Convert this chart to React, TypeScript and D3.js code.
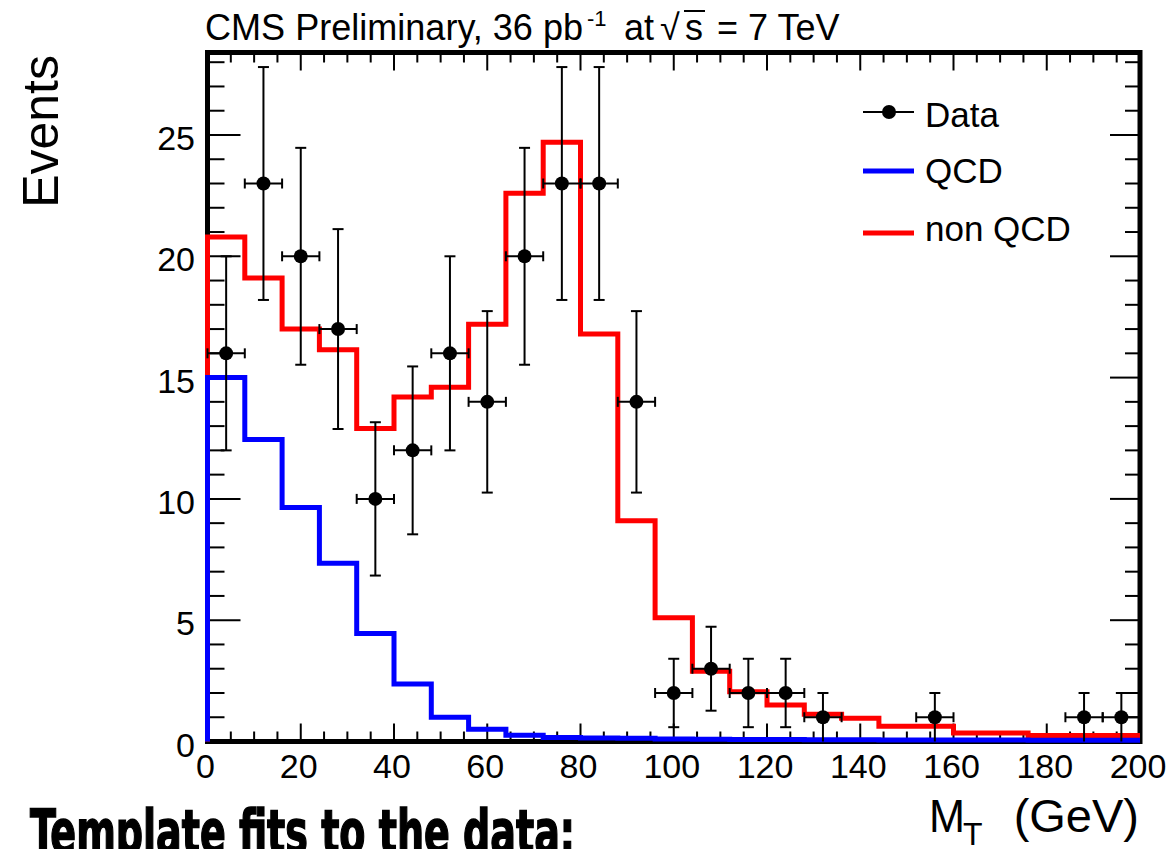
import React from 'react';
import * as d3 from 'd3';

// ---- Data ----
const binEdges = [0, 8, 16, 24, 32, 40, 48, 56, 64, 72, 80, 88, 96, 104, 112, 120, 128, 136, 144, 152, 160, 168, 176, 184, 192, 200];
const dataCounts = [16, 23, 20, 17, 10, 12, 16, 14, 20, 23, 23, 14, 2, 3, 2, 2, 1, 0, 0, 1, 0, 0, 0, 1, 1];
const dataErrors = [4.0, 4.8, 4.47, 4.12, 3.16, 3.46, 4.0, 3.74, 4.47, 4.8, 4.8, 3.74, 1.41, 1.73, 1.41, 1.41, 1.0, 0, 0, 1.0, 0, 0, 0, 1.0, 1.0];
const qcdTemplate = [15.0, 12.45, 9.65, 7.35, 4.45, 2.37, 1.0, 0.5, 0.26, 0.17, 0.14, 0.13, 0.1, 0.09, 0.08, 0.08, 0.07, 0.07, 0.06, 0.06, 0.06, 0.06, 0.05, 0.05, 0.05];
const nonQcdTemplate = [20.8, 19.1, 17.0, 16.15, 12.9, 14.2, 14.6, 17.2, 22.6, 24.7, 16.8, 9.1, 5.1, 2.9, 2.05, 1.5, 1.12, 0.96, 0.63, 0.63, 0.35, 0.35, 0.25, 0.25, 0.25];
const xTickValues = [0, 20, 40, 60, 80, 100, 120, 140, 160, 180, 200];
const yTickValues = [0, 5, 10, 15, 20, 25];
const legendLabels = ['Data', 'QCD', 'non QCD'];
const legendColors = ['#000000', '#0000ff', '#ff0000'];

const W = 1169;
const H = 849;
const FONT = "'Liberation Sans', Arial, Helvetica, sans-serif";

export default function App() {
  const X0 = 207.5, X1 = 1140, Y0 = 741.5, YT = 52.5;
  const x = d3.scaleLinear().domain([0, 200]).range([X0, X1]);
  const y = d3.scaleLinear().domain([0, 28.4]).range([Y0, YT]);

  const stepPath = (vals: number[]) => {
    const pts: [number, number][] = [[binEdges[0], 0]];
    vals.forEach((v, i) => {
      pts.push([binEdges[i], v]);
      pts.push([binEdges[i + 1], v]);
    });
    return d3.line<[number, number]>().x(d => x(d[0])).y(d => y(d[1]))(pts) || '';
  };

  const yMinor = d3.range(0, 29, 1).filter(v => v % 5 !== 0);
  const xMinor = d3.range(0, 201, 5).filter(v => v % 20 !== 0);

  const points = dataCounts
    .map((c, i) => ({ c, e: dataErrors[i], lo: binEdges[i], hi: binEdges[i + 1], mid: (binEdges[i] + binEdges[i + 1]) / 2 }))
    .filter(p => p.c > 0);

  const legendRows = [
    { line: 112, base: 127 },
    { line: 171, base: 183 },
    { line: 233, base: 241 },
  ];

  return (
    <svg width={W} height={H} style={{ position: 'absolute', left: 0, top: 0, background: '#fff' }}>
      <rect x={0} y={0} width={W} height={H} fill="#fff" />

      {/* ticks */}
      <g stroke="#000" strokeWidth={2}>
        {yTickValues.map(v => (
          <g key={'ym' + v}>
            <line x1={X0} x2={X0 + 33} y1={y(v)} y2={y(v)} />
            <line x1={X1} x2={X1 - 30} y1={y(v)} y2={y(v)} />
          </g>
        ))}
        {yMinor.map(v => (
          <g key={'yn' + v}>
            <line x1={X0} x2={X0 + 17} y1={y(v)} y2={y(v)} />
            <line x1={X1} x2={X1 - 15} y1={y(v)} y2={y(v)} />
          </g>
        ))}
        {xTickValues.map(v => (
          <g key={'xm' + v}>
            <line x1={x(v)} x2={x(v)} y1={Y0} y2={Y0 - 18} />
            <line x1={x(v)} x2={x(v)} y1={YT} y2={YT + 18} />
          </g>
        ))}
        {xMinor.map(v => (
          <g key={'xn' + v}>
            <line x1={x(v)} x2={x(v)} y1={Y0} y2={Y0 - 10} />
            <line x1={x(v)} x2={x(v)} y1={YT} y2={YT + 10} />
          </g>
        ))}
      </g>

      {/* frame */}
      <rect x={X0} y={YT} width={X1 - X0} height={Y0 - YT} fill="none" stroke="#000" strokeWidth={5} />

      {/* templates */}
      <path d={stepPath(nonQcdTemplate)} fill="none" stroke="#ff0000" strokeWidth={5} strokeLinejoin="miter" />
      <path d={stepPath(qcdTemplate)} fill="none" stroke="#0000ff" strokeWidth={5} strokeLinejoin="miter" />

      {/* data */}
      <g stroke="#000" strokeWidth={2} fill="#000">
        {points.map((p, i) => {
          const cx = x(p.mid), cy = y(p.c);
          const yTop = y(p.c + p.e), yBot = y(Math.max(0, p.c - p.e));
          return (
            <g key={'d' + i}>
              <line x1={cx} x2={cx} y1={yTop} y2={yBot} />
              <line x1={cx - 5.5} x2={cx + 5.5} y1={yTop} y2={yTop} />
              {p.c - p.e > 0.01 && <line x1={cx - 5.5} x2={cx + 5.5} y1={yBot} y2={yBot} />}
              <line x1={x(p.lo)} x2={x(p.hi)} y1={cy} y2={cy} />
              <line x1={x(p.lo)} x2={x(p.lo)} y1={cy - 5} y2={cy + 5} />
              <line x1={x(p.hi)} x2={x(p.hi)} y1={cy - 5} y2={cy + 5} />
              <circle cx={cx} cy={cy} r={7} stroke="none" />
            </g>
          );
        })}
      </g>

      {/* tick labels */}
      <g fontFamily={FONT} fontSize={34} fill="#000">
        {yTickValues.map(v => (
          <text key={'yl' + v} x={195} y={y(v) + 15} textAnchor="end">{v}</text>
        ))}
        {xTickValues.map(v => (
          <text key={'xl' + v} x={x(v) - 2} y={778} textAnchor="middle">{v}</text>
        ))}
      </g>

      {/* axis titles */}
      <text transform="translate(58,55) rotate(-90)" textAnchor="end" fontFamily={FONT} fontSize={50} fill="#000">Events</text>
      <g fontFamily={FONT} fill="#000">
        <text x={929} y={832} fontSize={47} textLength={36} lengthAdjust="spacingAndGlyphs">M</text>
        <text x={963} y={845} fontSize={32}>T</text>
        <text x={1139} y={832} fontSize={47} textAnchor="end">(GeV)</text>
      </g>

      {/* title */}
      <g fontFamily={FONT} fill="#000">
        <text x={205} y={40} fontSize={36} textLength={378} lengthAdjust="spacingAndGlyphs">CMS Preliminary, 36 pb</text>
        <text x={587} y={26} fontSize={22}>-1</text>
        <text x={624} y={40} fontSize={36}>at</text>
        <text x={660} y={40} fontSize={36}>√</text>
        <text x={685} y={40} fontSize={36}>s</text>
        <line x1={684} x2={705} y1={11} y2={11} stroke="#000" strokeWidth={2} />
        <text x={717} y={40} fontSize={36}>= 7 TeV</text>
      </g>

      {/* legend */}
      <g fontFamily={FONT} fontSize={35} fill="#000">
        {legendLabels.map((lab, i) => (
          <g key={'lg' + i}>
            <line x1={863} x2={914} y1={legendRows[i].line} y2={legendRows[i].line} stroke={legendColors[i]} strokeWidth={i === 0 ? 2 : 5} />
            {i === 0 && <circle cx={889} cy={legendRows[i].line} r={7} fill="#000" />}
            <text x={925} y={legendRows[i].base}>{lab}</text>
          </g>
        ))}
      </g>

      {/* slide caption */}
      <text x={30} y={853} fontFamily="'DejaVu Sans Condensed', 'DejaVu Sans', sans-serif" fontWeight={900} fontSize={60} fill="#000" stroke="#000" strokeWidth={1.5} textLength={545} lengthAdjust="spacingAndGlyphs">Template fits to the data:</text>
    </svg>
  );
}
